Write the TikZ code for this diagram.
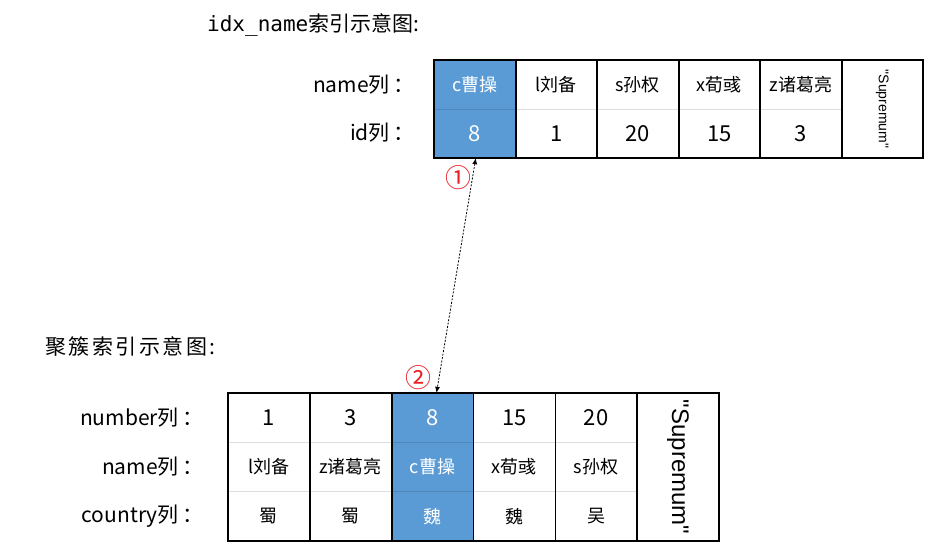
\documentclass[tikz,border=0pt]{standalone}
\usepackage{fontspec}
\setmainfont{Noto Sans CJK SC}
\newfontfamily\monofont{DejaVu Sans Mono}
\newfontfamily\latinfont{Liberation Sans}
\usepackage{tikz}
\usetikzlibrary{arrows.meta}
\definecolor{cellblue}{RGB}{91,155,213}
\definecolor{markred}{RGB}{235,28,36}

\begin{document}
\begin{tikzpicture}[x=1pt, y=-1pt]
        \tikzstyle{tcell} = [minimum width=81.5pt, minimum height=49pt, inner sep=0pt]
        \tikzstyle{bcell} = [minimum width=81.8pt, minimum height=49.3pt, inner sep=0pt]
        \tikzstyle{hot} = [fill=cellblue, text=white]
        \tikzstyle{num} = [font=\fontsize{22}{24}\selectfont]
        \tikzstyle{txt} = [font=\fontsize{18}{20}\selectfont]
        \tikzstyle{lbl} = [anchor=east, inner sep=0pt, font=\fontsize{21}{24}\selectfont]
        \tikzstyle{frame} = [line width=1.6pt, black]
        \tikzstyle{sep} = [line width=1.2pt, black, opacity=0.13]
        \tikzstyle{circnum} = [inner sep=0pt, text=markred, font=\fontsize{26}{26}\selectfont]
        \useasboundingbox (0,0) rectangle (939,558);

        % titles
        \node[anchor=west, inner sep=0pt, font=\fontsize{21}{24}\selectfont] (title1) at (207,25) {{\monofont idx\_name}索引示意图:};
        \node[anchor=west, inner sep=0pt, font=\fontsize{21}{24}\selectfont\addfontfeature{LetterSpace=12}] (title2) at (45,347) {聚簇索引示意图:};

        % idx_name index
        \node[lbl] (tnamelbl) at (415,85) {name列\hspace{4pt}：};
        \node[lbl] (tidlbl) at (415,133) {id列\hspace{4pt}：};
        \node[tcell, hot, txt] (tn1) at (474.75,84.5) {c曹操};
        \node[tcell, txt] (tn2) at (556.25,84.5) {l刘备};
        \node[tcell, txt] (tn3) at (637.75,84.5) {s孙权};
        \node[tcell, txt] (tn4) at (719.25,84.5) {x荀彧};
        \node[tcell, txt] (tn5) at (800.75,84.5) {z诸葛亮};
        \node[tcell, hot, num] (ti1) at (474.75,133.5) {8};
        \node[tcell, num] (ti2) at (556.25,133.5) {1};
        \node[tcell, num] (ti3) at (637.75,133.5) {20};
        \node[tcell, num] (ti4) at (719.25,133.5) {15};
        \node[tcell, num] (ti5) at (800.75,133.5) {3};
        \node[tcell, minimum height=98pt, font=\latinfont\fontsize{14}{14}\selectfont] (tsup) at (882.25,109) {\rotatebox{-90}{"Supremum"}};
        \draw[sep] (tn1.south west) -- (tn5.south east);
        \draw[frame] (tn1.north west) rectangle (tsup.south east);
        \foreach \i in {1,...,5}
          \draw[frame] (tn\i.north east) -- (ti\i.south east);

        % clustered index
        \node[lbl] (bnumlbl) at (204,418) {number列\hspace{4pt}：};
        \node[lbl] (bnamelbl) at (204,467) {name列\hspace{4pt}：};
        \node[lbl] (bcntlbl) at (204,516) {country列\hspace{4pt}：};
        \node[bcell, num] (bn1) at (268.9,417.7) {1};
        \node[bcell, num] (bn2) at (350.7,417.7) {3};
        \node[bcell, hot, num] (bn3) at (432.5,417.7) {8};
        \node[bcell, num] (bn4) at (514.3,417.7) {15};
        \node[bcell, num] (bn5) at (596.1,417.7) {20};
        \node[bcell, txt] (bm1) at (268.9,467) {l刘备};
        \node[bcell, txt] (bm2) at (350.7,467) {z诸葛亮};
        \node[bcell, hot, txt] (bm3) at (432.5,467) {c曹操};
        \node[bcell, txt] (bm4) at (514.3,467) {x荀彧};
        \node[bcell, txt] (bm5) at (596.1,467) {s孙权};
        \node[bcell, txt] (bc1) at (268.9,516.3) {蜀};
        \node[bcell, txt] (bc2) at (350.7,516.3) {蜀};
        \node[bcell, hot, txt] (bc3) at (432.5,516.3) {魏};
        \node[bcell, txt] (bc4) at (514.3,516.3) {魏};
        \node[bcell, txt] (bc5) at (596.1,516.3) {吴};
        \node[bcell, minimum height=148pt, font=\latinfont\fontsize{24}{24}\selectfont] (bsup) at (677.9,467) {\rotatebox{-90}{"Supremum"}};
        \draw[sep] (bn1.south west) -- (bn5.south east);
        \draw[sep] (bm1.south west) -- (bm5.south east);
        \draw[frame] (bn1.north west) rectangle (bsup.south east);
        \foreach \i in {1,...,5}
          \draw[frame] (bn\i.north east) -- (bc\i.south east);

        % lookup back to the table
        \node[circnum] (step1) at (458,178) {①};
        \node[circnum] (step2) at (418,378) {②};
        \draw[{Latex[length=6pt,width=5pt]}-{Latex[length=6pt,width=5pt]}, line width=0.8pt, dash pattern=on 2pt off 1.5pt] ([xshift=1pt]ti1.south) -- ([xshift=4pt]bn3.north);
      \end{tikzpicture}
\end{document}
